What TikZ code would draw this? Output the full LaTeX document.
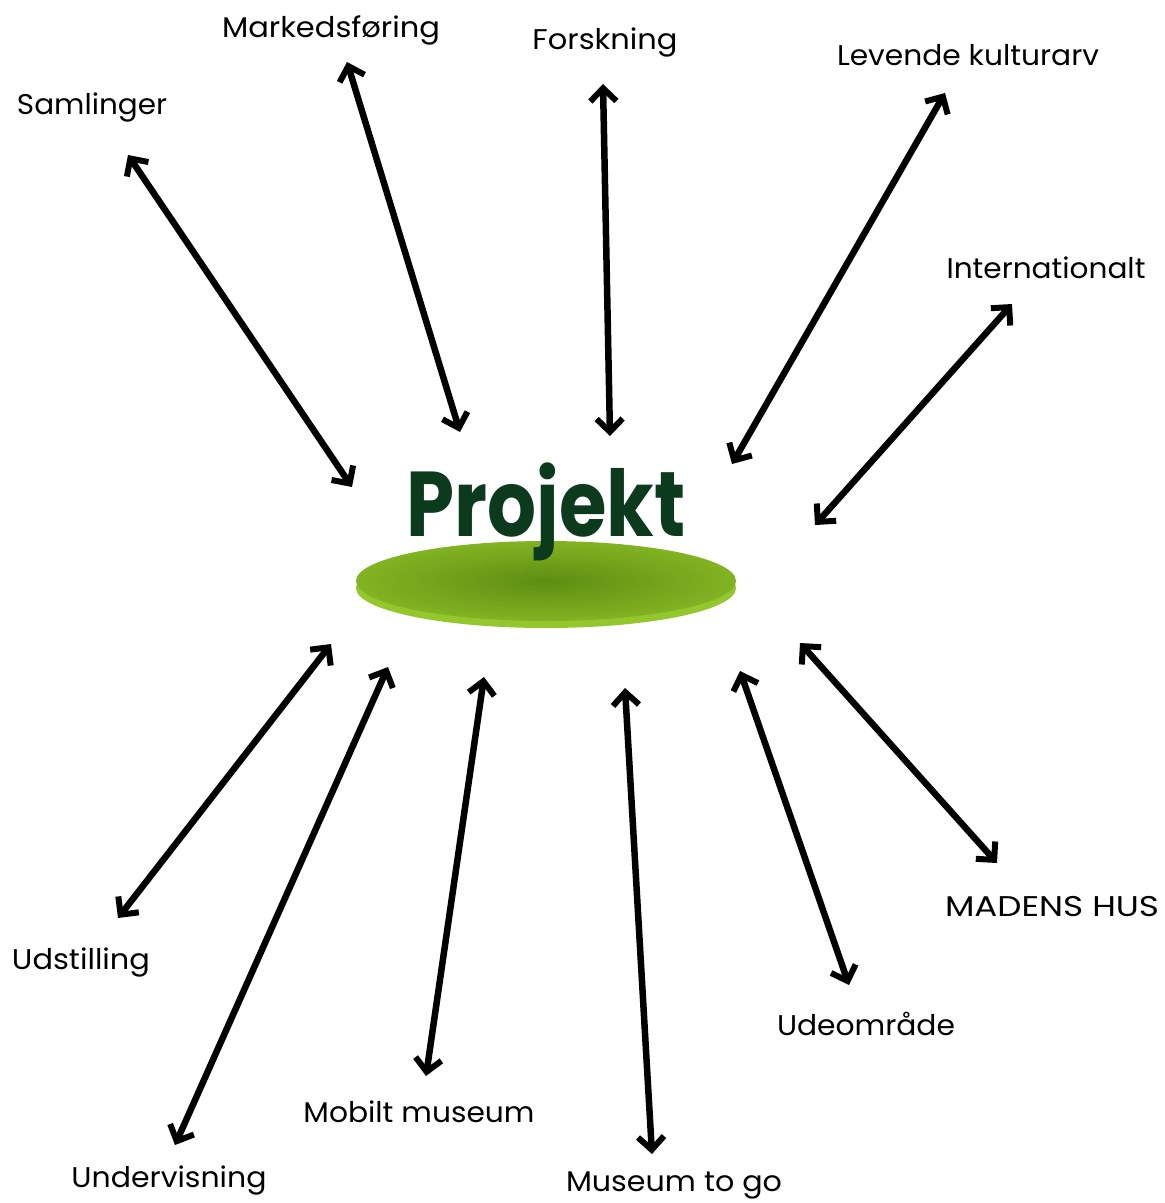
\documentclass[tikz,border=0pt]{standalone}
\usepackage{fontspec}
\usepackage{graphicx}
\setmainfont{Poppins}
\usetikzlibrary{arrows.meta}
\definecolor{projgreen}{HTML}{0B3A1C}
\definecolor{disctop}{HTML}{82B322}
\definecolor{discdark}{HTML}{5E8E12}
\definecolor{discrim}{HTML}{93C72C}
\newcommand\fitw[2]{\resizebox{#1pt}{\height}{#2}}
\tikzset{
  lbl/.style={font=\fontsize{28.5}{30}\selectfont, text=black, inner sep=0pt},
  link/.style={line width=6.5pt, line cap=round, {Straight Barb[length=13pt,width=26pt,line width=6pt]}-{Straight Barb[length=13pt,width=26pt,line width=6pt]}},
}
\begin{document}
\begin{tikzpicture}[x=1pt,y=-1pt]
\useasboundingbox (0,0) rectangle (1165,1203);
\fill[white] (0,0) rectangle (1165,1203);
% disc
\fill[discrim] (546,588) ellipse [x radius=190, y radius=40];
\shade[inner color=discdark, outer color=disctop] (546,581) ellipse [x radius=190, y radius=40];
\node[font=\fontsize{92}{96}\selectfont\bfseries, text=projgreen, inner sep=0pt] (proj) at (546,512) {\fitw{279}{Projekt}};
% labels
\node[lbl] (samlinger) at (92,107) {\fitw{150}{Samlinger}};
\node[lbl] (marked) at (331,30) {\fitw{218}{Markedsføring}};
\node[lbl] (forsk) at (605,42) {\fitw{145}{Forskning}};
\node[lbl] (levende) at (968,55) {\fitw{262}{Levende kulturarv}};
\node[lbl] (inter) at (1046,268) {\fitw{199}{Internationalt}};
\node[lbl] (madens) at (1052,907) {\fitw{214}{MADENS HUS}};
\node[lbl] (udeom) at (866,1024) {\fitw{178}{Udeområde}};
\node[lbl] (togo) at (674,1185) {\fitw{216}{Museum to go}};
\node[lbl] (mobilt) at (419,1112) {\fitw{231}{Mobilt museum}};
\node[lbl] (underv) at (169,1180) {\fitw{195}{Undervisning}};
\node[lbl] (udst) at (81,962) {\fitw{138}{Udstilling}};
% arrow endpoints
\coordinate (a1) at (128,155); \coordinate (b1) at (352,487);
\coordinate (a2) at (347,62); \coordinate (b2) at (460,432);
\coordinate (a3) at (603,84); \coordinate (b3) at (610,436);
\coordinate (a4) at (945,93); \coordinate (b4) at (732,464);
\coordinate (a5) at (1012,304); \coordinate (b5) at (815,525);
\coordinate (a6) at (997,863); \coordinate (b6) at (800,643);
\coordinate (a7) at (849,985); \coordinate (b7) at (740,671);
\coordinate (a8) at (652,1154); \coordinate (b8) at (625,688);
\coordinate (a9) at (426,1076); \coordinate (b9) at (484,677);
\coordinate (a10) at (175,1145); \coordinate (b10) at (388,667);
\coordinate (a11) at (118,918); \coordinate (b11) at (331,644);
\foreach \i in {1,...,11} { \draw[link] (a\i) -- (b\i); }
\end{tikzpicture}
\end{document}
